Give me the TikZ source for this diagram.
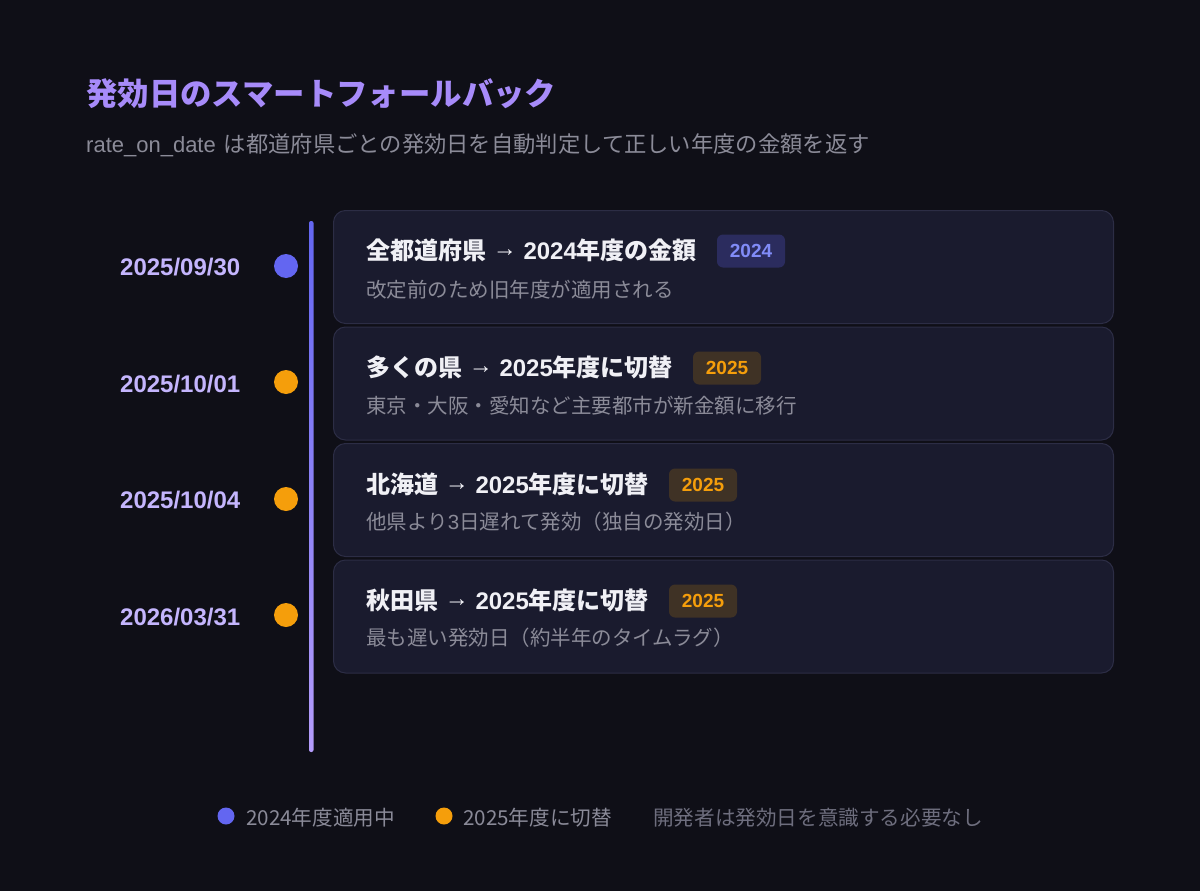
\documentclass[tikz,border=0pt]{standalone}
\usepackage{fontspec}
\setmainfont{Noto Sans CJK JP}
\newfontfamily\lib{Liberation Sans}
\definecolor{bg}{HTML}{0F0F17}
\definecolor{cardfill}{HTML}{1A1B2E}
\definecolor{cardline}{HTML}{2C2D45}
\definecolor{titlec}{HTML}{A78BFA}
\definecolor{datec}{HTML}{C4B5FD}
\definecolor{subc}{HTML}{8B8B98}
\definecolor{headc}{HTML}{F0F0F5}
\definecolor{indigo}{HTML}{6366F1}
\definecolor{amber}{HTML}{F59E0B}
\definecolor{badgeA}{HTML}{2B2C5E}
\definecolor{badgeAt}{HTML}{818CF8}
\definecolor{badgeB}{HTML}{3F3225}
\definecolor{legc}{HTML}{8A8A98}
\definecolor{notec}{HTML}{6E6E7E}
\newcommand{\arr}{{\lib\ \raisebox{3pt}{→}\ }}
\tikzset{
  card/.style={draw=cardline, fill=cardfill, rounded corners=12pt, line width=1pt,
    minimum width=780pt, minimum height=113pt, inner sep=0pt, anchor=north west},
  head/.style={anchor=west, inner sep=0pt, text=headc, font=\fontsize{24}{29}\selectfont\bfseries},
  sub/.style={anchor=west, inner sep=0pt, text=subc, font=\fontsize{20.5}{24}\selectfont},
  datel/.style={anchor=west, inner sep=0pt, text=datec, font=\lib\fontsize{24}{29}\selectfont\bfseries},
  dot/.style={circle, inner sep=0pt, minimum size=24pt},
  badge/.style={rounded corners=6pt, minimum width=68pt, minimum height=33pt, inner sep=0pt,
    font=\lib\fontsize{19}{22}\selectfont\bfseries},
  legdot/.style={circle, inner sep=0pt, minimum size=17pt},
  leg/.style={anchor=west, inner sep=0pt, font=\fontsize{20.6}{24}\selectfont}
}
\begin{document}
\begin{tikzpicture}[x=1pt,y=-1pt]
\fill[bg] (0,0) rectangle (1200,891);
\useasboundingbox (0,0) rectangle (1200,891);

\node[anchor=west, inner sep=0pt, text=titlec, font=\fontsize{31.4}{37}\selectfont\bfseries] (title) at (86,94) {発効日のスマートフォールバック};
\node[anchor=west, inner sep=0pt, text=subc, font=\fontsize{22.3}{26}\selectfont] (subtitle) at (86,145) {{\lib\fontsize{22}{26}\selectfont rate\_on\_date}\hspace{8pt}は都道府県ごとの発効日を自動判定して正しい年度の金額を返す};

% timeline line
\shade[top color=indigo, bottom color=titlec!85!white, rounded corners=2pt] (309,221) rectangle (313.5,752);

% cards
\node[card] (c1) at (333,210) {};
\node[card] (c2) at (333,326.5) {};
\node[card] (c3) at (333,443) {};
\node[card] (c4) at (333,559.5) {};

% dates
\node[datel] (d1) at (120,267) {2025/09/30};
\node[datel] (d2) at (120,384) {2025/10/01};
\node[datel] (d3) at (120,500) {2025/10/04};
\node[datel] (d4) at (120,617) {2026/03/31};

% dots
\node[dot, fill=indigo] (p1) at (286,266) {};
\node[dot, fill=amber] (p2) at (286,382) {};
\node[dot, fill=amber] (p3) at (286,499) {};
\node[dot, fill=amber] (p4) at (286,615) {};

% card texts
\node[head] (h1) at (366,250) {全都道府県\arr{\lib 2024}年度の金額};
\node[sub] (s1) at (366,290) {改定前のため旧年度が適用される};
\node[badge, fill=badgeA, text=badgeAt] (b1) at (751,251) {2024};

\node[head] (h2) at (366,367) {多くの県\arr{\lib 2025}年度に切替};
\node[sub] (s2) at (366,406) {東京・大阪・愛知など主要都市が新金額に移行};
\node[badge, fill=badgeB, text=amber] (b2) at (727,368) {2025};

\node[head] (h3) at (366,484) {北海道\arr{\lib 2025}年度に切替};
\node[sub] (s3) at (366,522) {他県より{\lib 3}日遅れて発効（独自の発効日）};
\node[badge, fill=badgeB, text=amber] (b3) at (703,485) {2025};

\node[head] (h4) at (366,600) {秋田県\arr{\lib 2025}年度に切替};
\node[sub] (s4) at (366,638) {最も遅い発効日（約半年のタイムラグ）};
\node[badge, fill=badgeB, text=amber] (b4) at (703,601) {2025};

% legend
\node[legdot, fill=indigo] (l1) at (226,816) {};
\node[leg, text=legc] (lt1) at (246,818) {2024年度適用中};
\node[legdot, fill=amber] (l2) at (444,816) {};
\node[leg, text=legc] (lt2) at (463,818) {2025年度に切替};
\node[leg, text=notec] (lt3) at (653,818) {開発者は発効日を意識する必要なし};
\end{tikzpicture}
\end{document}
